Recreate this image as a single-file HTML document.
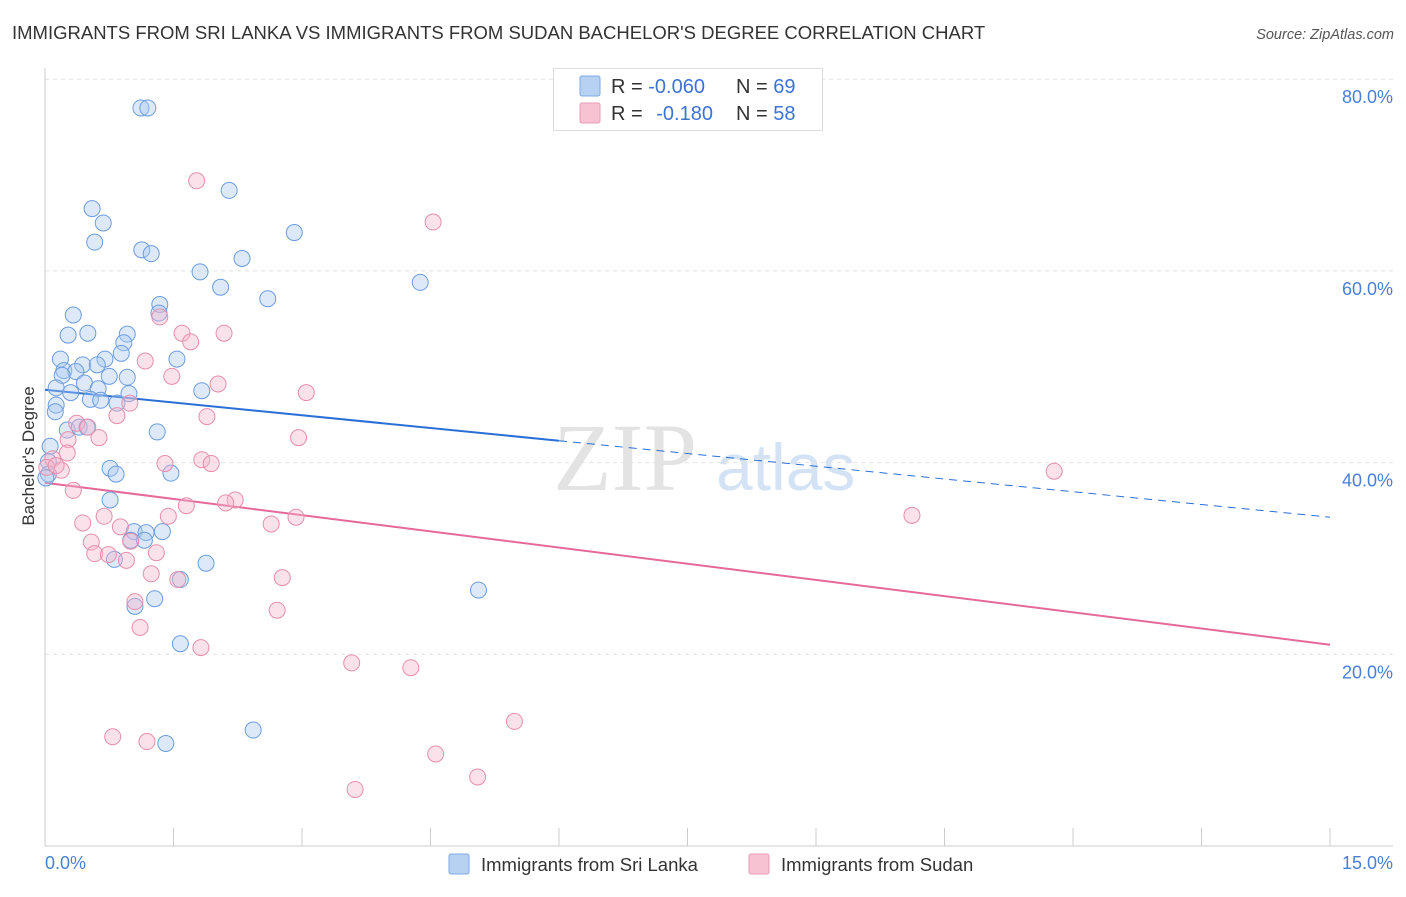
<!DOCTYPE html>
<html><head><meta charset="utf-8"><style>
body{margin:0;background:#fff;font-family:"Liberation Sans",sans-serif;}
svg text{font-family:"Liberation Sans",sans-serif;}
</style></head><body>
<svg id="chart" width="1406" height="892" viewBox="0 0 1406 892">
<text x="12" y="39" font-size="18.5" fill="#333">IMMIGRANTS FROM SRI LANKA VS IMMIGRANTS FROM SUDAN BACHELOR'S DEGREE CORRELATION CHART</text>
<text x="1394" y="39" font-size="14.5" fill="#555" font-style="italic" text-anchor="end">Source: ZipAtlas.com</text>
<g opacity="0.5">
<text x="553" y="490" font-size="96" fill="#c8c8c8" style="font-family:'Liberation Serif',serif">ZIP</text>
<text x="716" y="490" font-size="66" fill="#a9c6ea">atlas</text>
</g>
<g id="grid"></g>
<g id="axes"></g>
<g id="lines"></g>
<g id="points"></g>
<text transform="translate(34,456) rotate(-90)" font-size="17" fill="#333" text-anchor="middle">Bachelor's Degree</text>
<text x="45" y="869" font-size="18" fill="#4a7fd6">0.0%</text>
<text x="1393" y="869" font-size="18" fill="#4a7fd6" text-anchor="end">15.0%</text>
<g>
<rect x="553.5" y="68.5" width="269" height="62" fill="#fff" stroke="#ddd"/>
<rect x="580" y="76" width="20" height="20" fill="#b7d1f2" stroke="#7fa9e3" rx="2"/>
<rect x="580" y="103" width="20" height="20" fill="#f7c3d3" stroke="#ea9bb4" rx="2"/>
<text x="611" y="93" font-size="20" fill="#333">R = <tspan fill="#3d73d6">-0.060</tspan><tspan x="736">N = </tspan><tspan fill="#3d73d6">69</tspan></text>
<text x="611" y="120" font-size="20" fill="#333">R = <tspan fill="#3d73d6" dx="8">-0.180</tspan><tspan x="736">N = </tspan><tspan fill="#3d73d6">58</tspan></text>
</g>
<g>
<rect x="449" y="854" width="20" height="20" fill="#b7d1f2" stroke="#7fa9e3" rx="2"/>
<text x="481" y="871" font-size="18.5" fill="#333">Immigrants from Sri Lanka</text>
<rect x="749" y="854" width="20" height="20" fill="#f7c3d3" stroke="#ea9bb4" rx="2"/>
<text x="781" y="871" font-size="18.5" fill="#333">Immigrants from Sudan</text>
</g>
</svg>
<script>
const yTicks=[20,40,60,80];
const yTickLabels=["20.0%","40.0%","60.0%","80.0%"];
const xTicks=[0,1.5,3,4.5,6,7.5,9,10.5,12,13.5,15];
const blueX=[1.12,1.20,2.15,0.55,0.68,0.58,2.91,1.13,1.24,2.30,1.81,2.05,4.38,2.60,1.34,0.33,1.33,0.50,0.27,0.96,0.92,0.89,0.18,0.70,1.54,0.44,0.61,0.22,0.36,0.20,0.75,0.96,0.46,0.13,0.30,0.62,1.83,0.98,0.53,0.65,0.84,0.13,0.12,1.31,0.26,0.40,0.49,0.06,0.04,0.76,0.83,1.47,0.04,0.76,1.37,1.04,1.18,1.00,1.16,1.88,0.81,5.06,1.28,1.05,1.58,1.58,2.43,1.41,0.01];
const blueY=[77.0,77.0,68.4,66.5,65.0,63.0,64.0,62.2,61.8,61.3,59.9,58.3,58.8,57.1,56.5,55.4,55.6,53.5,53.3,53.4,52.5,51.4,50.8,50.8,50.8,50.2,50.2,49.6,49.5,49.1,49.0,48.9,48.3,47.8,47.3,47.7,47.5,47.2,46.6,46.5,46.2,46.0,45.3,43.2,43.4,43.7,43.7,41.7,40.1,39.4,38.8,38.9,38.8,36.1,32.8,32.8,32.7,31.9,31.9,29.5,29.9,26.7,25.8,25.0,27.8,21.1,12.1,10.7,38.4];
const pinkX=[1.77,4.53,1.34,1.60,2.09,1.70,1.17,1.48,2.02,3.05,0.99,0.84,1.89,0.37,0.50,0.27,0.63,2.96,1.83,1.94,1.40,0.26,0.09,0.19,0.02,0.13,0.33,2.22,2.11,1.65,0.69,1.44,2.93,0.44,0.88,2.64,0.54,1.00,0.58,0.74,1.30,0.95,1.24,2.77,1.55,1.05,2.71,1.11,1.82,3.58,4.27,5.48,0.79,1.19,4.56,5.05,3.62,11.78,10.12];
const pinkY=[69.4,65.1,55.2,53.5,53.5,52.6,50.6,49.0,48.2,47.3,46.2,44.9,44.8,44.1,43.7,42.4,42.6,42.6,40.3,39.9,39.9,41.0,40.4,39.2,39.5,39.7,37.1,36.1,35.8,35.5,34.4,34.4,34.3,33.7,33.3,33.6,31.7,31.8,30.5,30.4,30.6,29.8,28.4,28.0,27.8,25.5,24.6,22.8,20.7,19.1,18.6,13.0,11.4,10.9,9.6,7.2,5.9,39.1,34.5];
const blueTrend=[47.6,34.3];
const pinkTrend=[37.9,21.0];
const blueSolidEnd=6.0;

const NS="http://www.w3.org/2000/svg";
const sx=v=>45+v*(1285/15);
const sy=v=>846-v*9.585;
function mk(tag,attrs,parent){const e=document.createElementNS(NS,tag);for(const k in attrs)e.setAttribute(k,attrs[k]);document.getElementById(parent).appendChild(e);return e;}

yTicks.forEach((t,i)=>{
  const l=mk('line',{x1:45,x2:1393,y1:sy(t),y2:sy(t),stroke:'#e2e2e2','stroke-dasharray':'4,4'},'grid');
  
  
  const tx=mk('text',{x:1393,y:sy(t)+24,'font-size':18,fill:'#4a7fd6','text-anchor':'end'},'grid');
  tx.textContent=yTickLabels[i];
  
  
});
const ya=mk('line',{x1:45,x2:45,y1:68,y2:846,stroke:'#ccc'},'axes');


const xa=mk('line',{x1:45,x2:1393,y1:846,y2:846,stroke:'#ccc'},'axes');


xTicks.forEach(t=>{
  const l=mk('line',{x1:sx(t),x2:sx(t),y1:828,y2:846,stroke:'#ccc'},'axes');
  
  
});
function pts(xs,ys,fill,stroke,name){
  xs.forEach((x,i)=>{
    const c=mk('circle',{cx:sx(x),cy:sy(ys[i]),r:8,fill:fill,'fill-opacity':0.4,stroke:stroke,'stroke-width':1},'points');
    
    
  });
}
pts(blueX,blueY,'#a9c8f0','#6b9de0','sri-lanka-point');
pts(pinkX,pinkY,'#f5b5ca','#e68fab','sudan-point');
const trendAt=(tr,x)=>tr[0]+(tr[1]-tr[0])*x/15;
const b1=mk('line',{x1:sx(0),y1:sy(blueTrend[0]),x2:sx(blueSolidEnd),y2:sy(trendAt(blueTrend,blueSolidEnd)),stroke:'#2a6fd6','stroke-width':2},'lines');


const b2=mk('line',{x1:sx(blueSolidEnd),y1:sy(trendAt(blueTrend,blueSolidEnd)),x2:sx(15),y2:sy(blueTrend[1]),stroke:'#2a6fd6','stroke-width':1,'stroke-dasharray':'8,6'},'lines');


const p1=mk('line',{x1:sx(0),y1:sy(pinkTrend[0]),x2:sx(15),y2:sy(pinkTrend[1]),stroke:'#e5699a','stroke-width':2},'lines');


</script>
</body></html>
